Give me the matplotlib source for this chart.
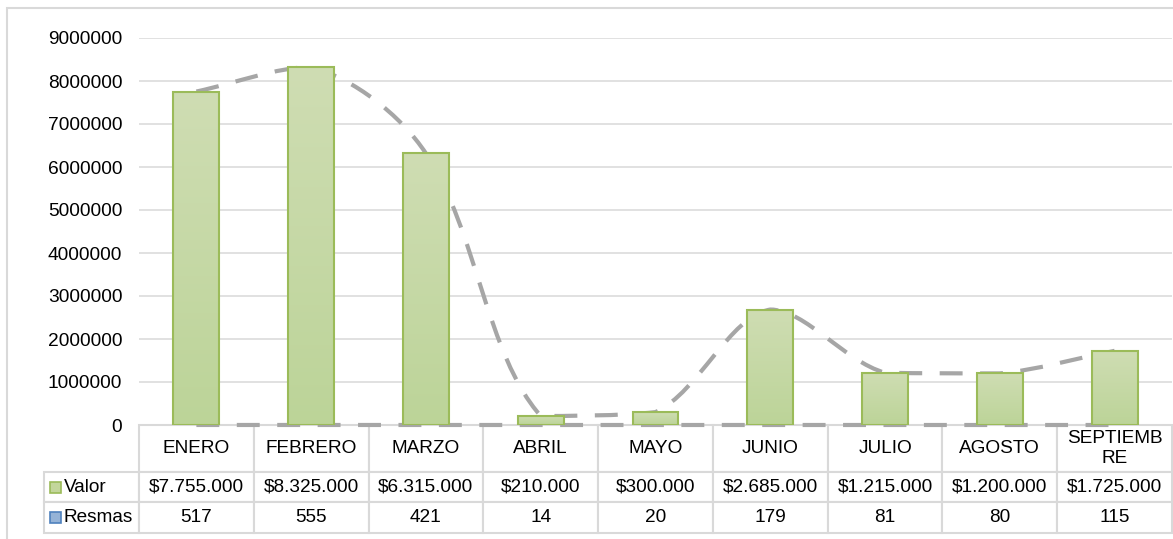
import numpy as np
import matplotlib
matplotlib.use('Agg')
import matplotlib.pyplot as plt
from matplotlib.path import Path
from matplotlib.patches import PathPatch, Rectangle
from matplotlib.table import Table
from matplotlib.colors import LinearSegmentedColormap

# data
meses = ['ENERO', 'FEBRERO', 'MARZO', 'ABRIL', 'MAYO', 'JUNIO', 'JULIO', 'AGOSTO', 'SEPTIEMBRE']
valor = [7755000, 8325000, 6315000, 210000, 300000, 2685000, 1215000, 1200000, 1725000]
resmas = [517, 555, 421, 14, 20, 179, 81, 80, 115]
yticks = [0, 1000000, 2000000, 3000000, 4000000, 5000000, 6000000, 7000000, 8000000, 9000000]

plt.rcParams['font.family'] = ['Liberation Sans', 'DejaVu Sans']
plt.rcParams['font.size'] = 13.7

W, H = 1173, 539
AW, AH = 1033, 387  # axes size in px
fig = plt.figure(figsize=(W / 100, H / 100), dpi=100)
ax = fig.add_axes([139 / W, (H - 425) / H, AW / W, AH / H])

# chart frame
fig.patches.append(Rectangle((7 / W, -0.1), 1.2, (H - 8) / H + 0.1, transform=fig.transFigure,
                             fill=False, edgecolor='#d9d9d9', linewidth=1.5))

x = np.arange(len(meses))
grey = '#a6a6a6'
dash = (0, (5.5, 4.2))


def smooth_path(xs, ys, sx, sy, s=1 / 3):
    # bezier through the points, similar to excel "smoothed line"
    P = np.column_stack([np.asarray(xs, float) * sx, np.asarray(ys, float) * sy])
    n = len(P)
    verts = [P[0]]
    codes = [Path.MOVETO]
    for i in range(n - 1):
        p0, p1, p2, p3 = P[max(i - 1, 0)], P[i], P[i + 1], P[min(i + 2, n - 1)]
        d01 = np.hypot(*(p1 - p0))
        d12 = np.hypot(*(p2 - p1))
        d23 = np.hypot(*(p3 - p2))
        c1 = p1 + (p2 - p0) * s * d12 / (d01 + d12)
        c2 = p2 - (p3 - p1) * s * d12 / (d12 + d23)
        lo, hi = min(p1[1], p2[1]), max(p1[1], p2[1])
        c1[1] = np.clip(c1[1], lo, hi)
        c2[1] = np.clip(c2[1], lo, hi)
        verts += [c1, c2, p2]
        codes += [Path.CURVE4] * 3
    verts = np.array(verts) / [sx, sy]
    return Path(verts, codes)


sx = AW / 9
sy = AH / 9000000
ax.add_patch(PathPatch(smooth_path(x, valor, sx, sy), fill=False, edgecolor=grey, linewidth=3,
                       linestyle=dash, capstyle='butt', zorder=2))
ax.plot(x, resmas, color=grey, linewidth=3, linestyle=dash, dash_capstyle='butt',
        zorder=2, clip_on=False)

# bars with a soft gradient
bars = ax.bar(x, valor, width=0.4, facecolor='none', edgecolor='#9bbb59', linewidth=1.5, zorder=4)
cmap = LinearSegmentedColormap.from_list('verde', ['#bcd498', '#cfddb3'])
grad = np.linspace(0, 1, 256).reshape(-1, 1)
for b in bars:
    im = ax.imshow(grad, extent=[b.get_x(), b.get_x() + b.get_width(), 0, b.get_height()],
                   origin='lower', cmap=cmap, aspect='auto', zorder=3)
    im.set_clip_path(b)

ax.set_xlim(-0.5, len(meses) - 0.5)
ax.set_ylim(0, 9000000)
ax.set_yticks(yticks)
ax.yaxis.set_major_formatter(lambda v, p: f'{v:.0f}')
ax.tick_params(axis='y', length=0, pad=12, labelsize=13.8)
ax.set_xticks([])
for sp in ax.spines.values():
    sp.set_visible(False)
ax.grid(axis='y', color='#d9d9d9', linewidth=1.1)
ax.set_axisbelow(True)

# data table under the chart (sizes in axes units so bbox scale is 1)
etiquetas = [m if len(m) <= 8 else m[:8] + '\n' + m[8:] for m in meses]
valor_txt = ['$' + f'{v:,}'.replace(',', '.') for v in valor]
resmas_txt = [str(r) for r in resmas]

tbl = Table(ax, bbox=[0, -108 / AH, 1, 108 / AH])
cw = 1 / 9
for j, m in enumerate(etiquetas):
    tbl.add_cell(0, j, width=cw, height=47 / AH, text=m, loc='center')
for i, (nombre, fila, h) in enumerate([('Valor', valor_txt, 30), ('Resmas', resmas_txt, 31)], start=1):
    c = tbl.add_cell(i, -1, width=95 / AW, height=h / AH, text=nombre, loc='left')
    c.PAD = 0.21
    for j, t in enumerate(fila):
        tbl.add_cell(i, j, width=cw, height=h / AH, text=t, loc='center')
for c in tbl.get_celld().values():
    c.set_edgecolor('#d9d9d9')
    c.set_linewidth(1.5)
tbl.auto_set_font_size(False)
tbl.set_fontsize(13.7)
tbl.set_zorder(1)
ax.add_table(tbl)

# legend keys in the table
ax.add_patch(Rectangle(((50 - 139) / AW, (425 - 493) / AH), 11 / AW, 11 / AH, transform=ax.transAxes,
                       facecolor='#c3d69b', edgecolor='#9bbb59', linewidth=1.2, clip_on=False, zorder=5))
ax.add_patch(Rectangle(((50 - 139) / AW, (425 - 523) / AH), 11 / AW, 11 / AH, transform=ax.transAxes,
                       facecolor='#95b3d7', edgecolor='#4f81bd', linewidth=1.2, clip_on=False, zorder=5))

fig.savefig('out.png', dpi=100)
